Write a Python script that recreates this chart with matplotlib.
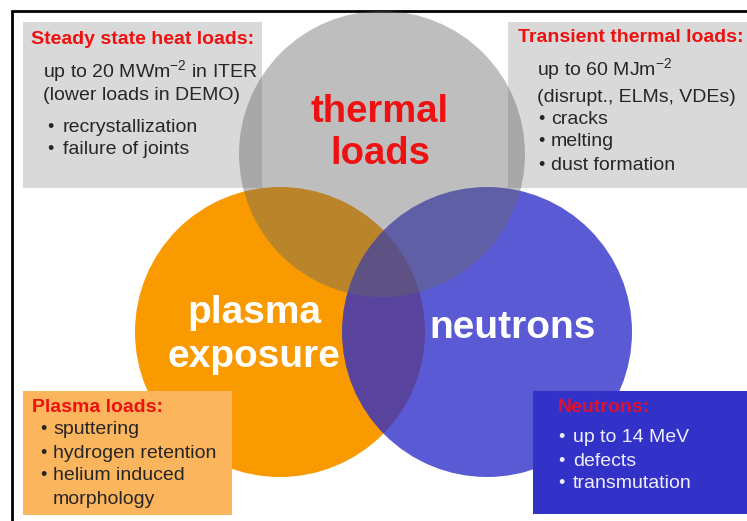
import matplotlib
matplotlib.use("Agg")
import matplotlib.pyplot as plt
from matplotlib.patches import Circle, Rectangle

plt.rcParams['font.family'] = ['Liberation Sans', 'DejaVu Sans']
plt.rcParams['mathtext.fontset'] = 'custom'
plt.rcParams['mathtext.rm'] = 'Liberation Sans'
plt.rcParams['mathtext.default'] = 'regular'

# circle labels
circle_names = ['thermal\nloads', 'plasma\nexposure', 'neutrons']

# box texts
steady_title = 'Steady state heat loads:'
steady_lines = ['up to 20 MWm$^{-2}$ in ITER', '(lower loads in DEMO)']
steady_bullets = ['recrystallization', 'failure of joints']

trans_title = 'Transient thermal loads:'
trans_lines = ['up to 60 MJm$^{-2}$', '(disrupt., ELMs, VDEs)']
trans_bullets = ['cracks', 'melting', 'dust formation']

plasma_title = 'Plasma loads:'
plasma_bullets = ['sputtering', 'hydrogen retention', 'helium induced\nmorphology']

neutron_title = 'Neutrons:'
neutron_bullets = ['up to 14 MeV', 'defects', 'transmutation']

W, H = 747, 521
fig = plt.figure(figsize=(W / 100, H / 100), dpi=100)
ax = fig.add_axes([0, 0, 1, 1])
ax.set_xlim(0, W)
ax.set_ylim(H, 0)
ax.axis('off')

# frame
ax.plot([12, 12, W + 5], [H + 5, 11, 11], color='black', lw=2, solid_joinstyle='miter')

# top boxes (under the circles)
ax.add_patch(Rectangle((23, 22), 239, 166, fc='#d9d9d9', lw=0, zorder=1))
ax.add_patch(Rectangle((508, 22), 245, 166, fc='#d9d9d9', lw=0, zorder=1))

# circles
ax.add_patch(Circle((280, 332), 145, fc='#f89a00', lw=0, zorder=2))
ax.add_patch(Circle((487, 332), 145, fc='#2c2cca', alpha=0.78, lw=0, zorder=3))
ax.add_patch(Circle((382, 154), 143, fc='#666666', alpha=0.42, lw=0, zorder=4))

# bottom boxes (over the circles)
ax.add_patch(Rectangle((23, 391), 209, 124, fc='#fbb55c', lw=0, zorder=5))
ax.add_patch(Rectangle((533, 391), 220, 123, fc='#3232c8', lw=0, zorder=5))

red = '#ee1111'
dark = '#262626'
light = '#eeeeff'
z = 6
fs_title = 14
fs_body = 14
fs_dot = 13


def bullet(x, y, s, color, tx):
    ax.text(x, y, '\u2022', color=color, fontsize=fs_dot, va='center', zorder=z)
    ax.text(tx, y, s, color=color, fontsize=fs_body, va='center', zorder=z)


# circle labels
ax.text(380, 133, circle_names[0], color=red, fontsize=27.5, fontweight='bold',
        ha='center', va='center', linespacing=1.2, zorder=z)
ax.text(254, 335, circle_names[1], color='white', fontsize=28, fontweight='bold',
        ha='center', va='center', linespacing=1.32, zorder=z)
ax.text(513, 328, circle_names[2], color='white', fontsize=28, fontweight='bold',
        ha='center', va='center', zorder=z)

# steady state box
ax.text(31, 39, steady_title, color=red, fontsize=fs_title, fontweight='bold', va='center', zorder=z)
for i, s in enumerate(steady_lines):
    ax.text(43, 71 + i * 24, s, color=dark, fontsize=fs_body, va='center', zorder=z)
for i, s in enumerate(steady_bullets):
    bullet(47, 127 + i * 22, s, dark, 63)

# transient box
ax.text(518, 37, trans_title, color=red, fontsize=fs_title, fontweight='bold', va='center', zorder=z)
for i, s in enumerate(trans_lines):
    ax.text(537, 69 + i * 28, s, color=dark, fontsize=fs_body, va='center', zorder=z)
for i, s in enumerate(trans_bullets):
    bullet(538, 119 + i * 23, s, dark, 551)

# plasma box
ax.text(32, 408, plasma_title, color=red, fontsize=fs_title, fontweight='bold', va='center', zorder=z)
y = 430
for s in plasma_bullets:
    for j, line in enumerate(s.split('\n')):
        if j == 0:
            bullet(40, y, line, dark, 53)
        else:
            ax.text(53, y, line, color=dark, fontsize=fs_body, va='center', zorder=z)
        y += 23

# neutron box
ax.text(558, 408, neutron_title, color='#dd1133', fontsize=fs_title, fontweight='bold', va='center', zorder=z)
for i, s in enumerate(neutron_bullets):
    bullet(558, 438 + i * 23, s, light, 573)

fig.savefig('out.png', dpi=100)
